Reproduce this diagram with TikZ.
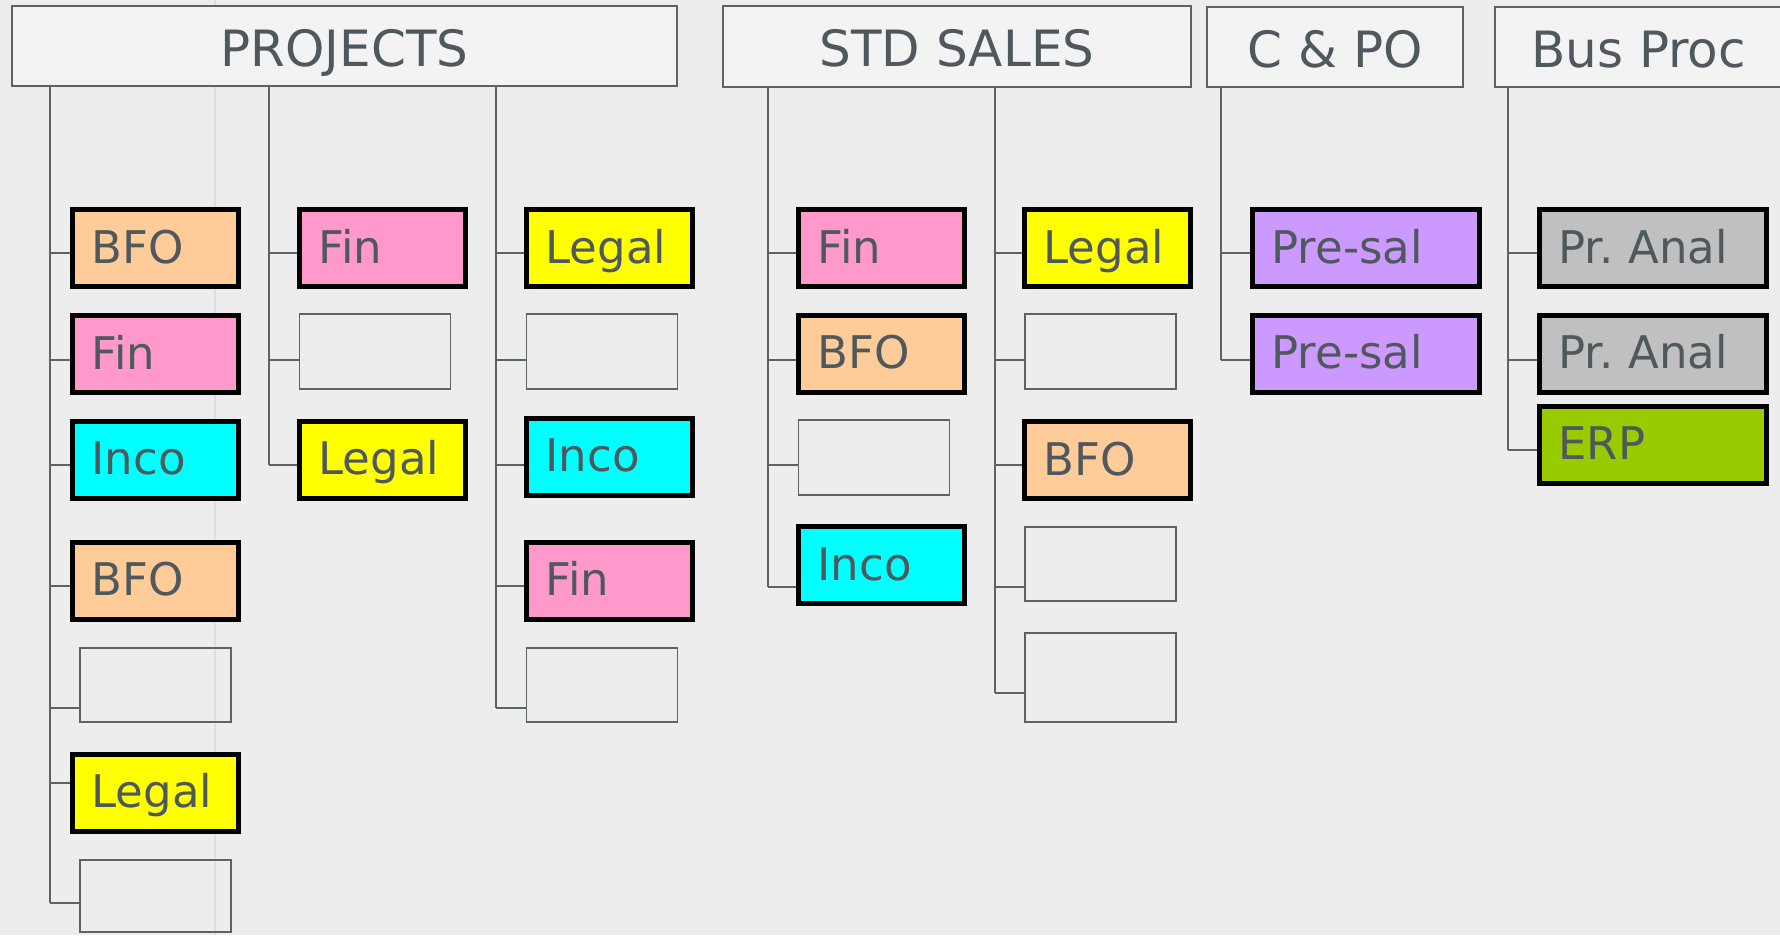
\documentclass[tikz,border=0pt]{standalone}
\usepackage{fontspec}
\setmainfont{DejaVu Sans}
\definecolor{bg}{HTML}{EDEDED}
\definecolor{hdrfill}{HTML}{F3F3F3}
\definecolor{linec}{HTML}{5B6366}
\definecolor{txt}{HTML}{4F585C}
\definecolor{cBFO}{HTML}{FFCC99}
\definecolor{cFin}{HTML}{FF99CC}
\definecolor{cInco}{HTML}{00FFFF}
\definecolor{cLegal}{HTML}{FFFF00}
\definecolor{cPre}{HTML}{CC99FF}
\definecolor{cAnal}{HTML}{C0C0C0}
\definecolor{cERP}{HTML}{99CC00}
\tikzset{
  hdr/.style={draw=linec, line width=1.6pt, fill=hdrfill, text=txt,
    font=\fontsize{50}{50}\selectfont, inner sep=0pt, text height=40pt, text depth=0pt,
    minimum height=80.5pt},
  cbox/.style={draw=black, line width=5pt, fill=#1, text=txt,
    font=\fontsize{45}{45}\selectfont, minimum width=166pt, minimum height=77pt,
    inner xsep=19pt, inner ysep=0pt, text width=128pt, align=left,
    text height=33pt, text depth=3pt},
  wide/.style={minimum width=227pt, text width=189pt},
  ebox/.style={draw=linec, line width=1.8pt, minimum width=151pt, minimum height=75.7pt, inner sep=0pt},
  trunk/.style={draw=linec, line width=1.6pt},
  conn/.style={draw=linec, line width=2.2pt},
}
\newcommand\hook[3]{\coordinate (#2c) at ([yshift=#3]#2.west);
  \draw[conn] (#1 |- #2c) -- (#2c);}
\begin{document}
\begin{tikzpicture}[x=1pt,y=-1pt]
\useasboundingbox (0,0) rectangle (1780,935);
\fill[bg] (0,0) rectangle (1780,935);
\draw[black!13, line width=2pt] (215,0) -- (215,935);

% headers
\node[hdr, minimum width=665.5pt] (hP) at (344.5,46) {PROJECTS};
\node[hdr, minimum width=468.5pt] (hS) at (957,46.5) {STD SALES};
\node[hdr, minimum width=256.5pt] (hC) at (1335,47) {C \& PO};
\node[hdr, minimum width=287.5pt] (hB) at (1638.5,47) {Bus Proc};

% PROJECTS column 1
\node[cbox=cBFO]   (P1a) at (155.5,248)   {BFO};
\node[cbox=cFin]   (P1b) at (155.5,354)   {Fin};
\node[cbox=cInco]  (P1c) at (155.5,459.5) {Inco};
\node[cbox=cBFO]   (P1d) at (155.5,580.5) {BFO};
\node[ebox, minimum width=151.2pt, minimum height=74.7pt] (P1e) at (155.75,685) {};
\node[cbox=cLegal] (P1f) at (155.5,792.5) {Legal};
\node[ebox, minimum width=151.2pt, minimum height=72.7pt] (P1g) at (155.75,896) {};
% PROJECTS column 2
\node[cbox=cFin]   (P2a) at (382.5,248)   {Fin};
\node[ebox]        (P2b) at (375,351.5)   {};
\node[cbox=cLegal] (P2c) at (382.5,459.5) {Legal};
% PROJECTS column 3
\node[cbox=cLegal] (P3a) at (609.5,248)   {Legal};
\node[ebox]        (P3b) at (602,351.5)   {};
\node[cbox=cInco]  (P3c) at (609.5,456.5) {Inco};
\node[cbox=cFin]   (P3d) at (609.5,580.5) {Fin};
\node[ebox, minimum height=74.7pt] (P3e) at (602,685) {};

% STD SALES column 1
\node[cbox=cFin]   (S1a) at (881.5,248)   {Fin};
\node[cbox=cBFO]   (S1b) at (881.5,353.5) {BFO};
\node[ebox]        (S1c) at (874,457.5)   {};
\node[cbox=cInco]  (S1d) at (881.5,565)   {Inco};
% STD SALES column 2
\node[cbox=cLegal] (S2a) at (1107.5,248)  {Legal};
\node[ebox, minimum width=151.7pt] (S2b) at (1100.5,351.5) {};
\node[cbox=cBFO]   (S2c) at (1107.5,460)  {BFO};
\node[ebox, minimum width=151.7pt, minimum height=74.7pt] (S2d) at (1100.5,564) {};
\node[ebox, minimum width=151.7pt, minimum height=89.7pt] (S2e) at (1100.5,677.5) {};

% C & PO
\node[cbox=cPre, wide]  (C1a) at (1366,248)   {Pre-sal};
\node[cbox=cPre, wide]  (C1b) at (1366,353.5) {Pre-sal};

% Bus Proc
\node[cbox=cAnal, wide] (B1a) at (1653,248)   {Pr.\ Anal};
\node[cbox=cAnal, wide] (B1b) at (1653,353.5) {Pr.\ Anal};
\node[cbox=cERP, wide]  (B1c) at (1653,444.5) {ERP};

% trunk tops
\coordinate (tP1) at (hP.south -| 50,0);
\coordinate (tP2) at (hP.south -| 269,0);
\coordinate (tP3) at (hP.south -| 496,0);
\coordinate (tS1) at (hS.south -| 768,0);
\coordinate (tS2) at (hS.south -| 995,0);
\coordinate (tC1) at (hC.south -| 1221,0);
\coordinate (tB1) at (hB.south -| 1508,0);

% connectors
\hook{tP1}{P1a}{-5pt}\hook{tP1}{P1b}{-6pt}\hook{tP1}{P1c}{-5.5pt}\hook{tP1}{P1d}{-5.5pt}
\hook{tP1}{P1e}{-23pt}\hook{tP1}{P1f}{9.5pt}\hook{tP1}{P1g}{-7pt}
\hook{tP2}{P2a}{-5pt}\hook{tP2}{P2b}{-8.5pt}\hook{tP2}{P2c}{-5.5pt}
\hook{tP3}{P3a}{-5pt}\hook{tP3}{P3b}{-8.5pt}\hook{tP3}{P3c}{-8.5pt}\hook{tP3}{P3d}{-5.5pt}\hook{tP3}{P3e}{-23pt}
\hook{tS1}{S1a}{-5pt}\hook{tS1}{S1b}{-6.5pt}\hook{tS1}{S1c}{-7.5pt}\hook{tS1}{S1d}{-22pt}
\hook{tS2}{S2a}{-5pt}\hook{tS2}{S2b}{-8.5pt}\hook{tS2}{S2c}{-5pt}\hook{tS2}{S2d}{-23pt}\hook{tS2}{S2e}{-15.5pt}
\hook{tC1}{C1a}{-5pt}\hook{tC1}{C1b}{-6.5pt}
\hook{tB1}{B1a}{-5pt}\hook{tB1}{B1b}{-6.5pt}\hook{tB1}{B1c}{-5.5pt}

% trunks
\draw[trunk] (tP1) -- (tP1 |- P1gc);
\draw[trunk] (tP2) -- (tP2 |- P2cc);
\draw[trunk] (tP3) -- (tP3 |- P3ec);
\draw[trunk] (tS1) -- (tS1 |- S1dc);
\draw[trunk] (tS2) -- (tS2 |- S2ec);
\draw[trunk] (tC1) -- (tC1 |- C1bc);
\draw[trunk] (tB1) -- (tB1 |- B1cc);
\end{tikzpicture}
\end{document}
